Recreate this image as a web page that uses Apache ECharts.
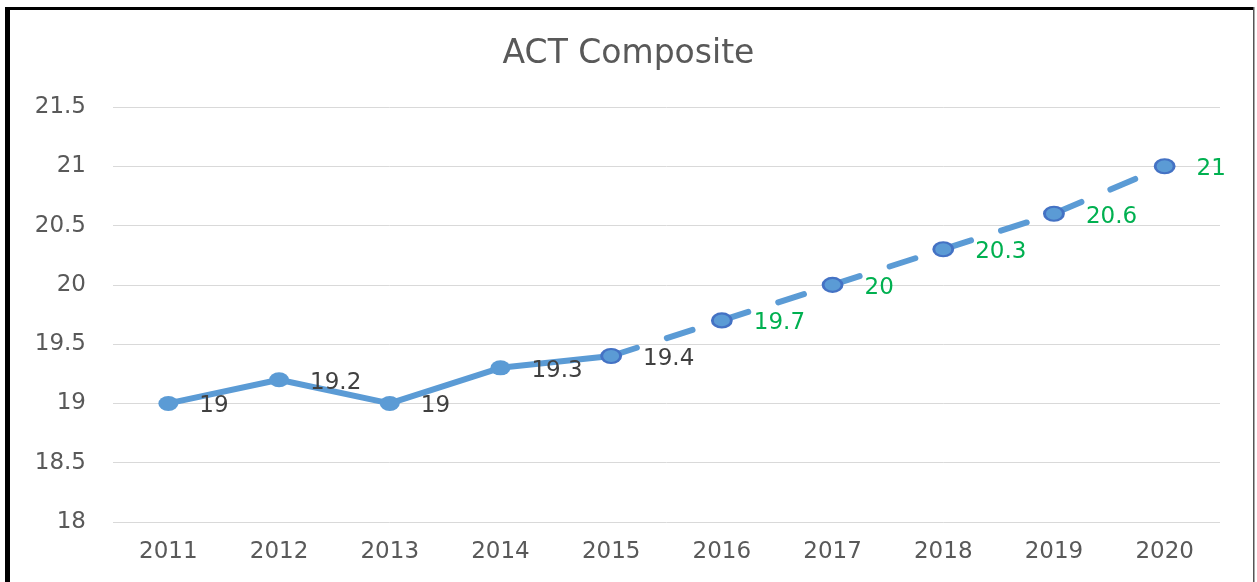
<!DOCTYPE html>
<html>
<head>
<meta charset="utf-8">
<script src="https://cdn.jsdelivr.net/npm/echarts@6/dist/echarts.min.js"></script>
<style>
html,body{margin:0;padding:0;background:#fff;}
#chart{width:1257px;height:582px;}
</style>
</head>
<body>
<div id="chart"></div>
<script>
const years = ['2011','2012','2013','2014','2015','2016','2017','2018','2019','2020'];
const actual = [19, 19.2, 19, 19.3, 19.4, null, null, null, null, null];
const projected = [null, null, null, null, 19.4, 19.7, 20, 20.3, 20.6, 21];
const yTicks = [18, 18.5, 19, 19.5, 20, 20.5, 21, 21.5];

const chart = echarts.init(document.getElementById('chart'), null, {renderer:'canvas'});
const font = '"DejaVu Sans", "Open Sans", sans-serif';
const grayLabel = '#404040';
const greenLabel = '#00B050';

const actualData = actual.map((v, i) => {
  if (v === null) return null;
  return {value: v, label: {show: i !== 4}};
});
const projData = projected.map((v, i) => {
  if (v === null) return null;
  return i === 4
    ? {value: v, label: {show: true, color: grayLabel}}
    : {value: v, label: {show: true}};
});

const labelBase = {position: 'right', distance: 21, offset: [0, 3], fontFamily: font, fontSize: 23};

chart.setOption({
  animation: false,
  title: {
    text: 'ACT Composite',
    left: 'center',
    top: 33,
    textStyle: {fontFamily: font, fontSize: 33, fontWeight: 'normal', color: '#595959'}
  },
  grid: {left: 113, right: 37, top: 107, bottom: 60, containLabel: false},
  xAxis: {
    type: 'category',
    data: years,
    boundaryGap: true,
    axisLine: {show: false},
    axisTick: {show: false},
    axisLabel: {fontFamily: font, fontSize: 23, color: '#595959', margin: 19}
  },
  yAxis: {
    type: 'value',
    min: 18,
    max: 21.5,
    interval: 0.5,
    axisLine: {show: false},
    axisTick: {show: false},
    splitLine: {lineStyle: {color: '#d9d9d9', width: 1}},
    axisLabel: {fontFamily: font, fontSize: 23, color: '#595959', margin: 27,
      formatter: v => yTicks.includes(v) ? String(v) : ''}
  },
  series: [
    {
      type: 'line',
      data: actualData,
      symbol: 'circle',
      symbolSize: [20, 15],
      itemStyle: {color: '#5B9BD5'},
      lineStyle: {color: '#5B9BD5', width: 6},
      label: Object.assign({color: grayLabel}, labelBase),
      z: 2
    },
    {
      type: 'line',
      data: projData,
      symbol: 'circle',
      symbolSize: [19, 14],
      itemStyle: {color: '#5B9BD5', borderColor: '#4472C4', borderWidth: 2.5},
      lineStyle: {color: '#5B9BD5', width: 6, type: [27, 31.5], cap: 'round'},
      label: Object.assign({color: greenLabel}, labelBase),
      z: 3
    }
  ],
  graphic: [
    {type: 'rect', shape: {x: 5, y: 7, width: 5, height: 600}, style: {fill: '#000'}, z: 100},
    {type: 'rect', shape: {x: 5, y: 7, width: 1249, height: 3}, style: {fill: '#000'}, z: 100},
    {type: 'rect', shape: {x: 1253, y: 7, width: 1.5, height: 600}, style: {fill: '#555'}, z: 100}
  ]
});
</script>
</body>
</html>
